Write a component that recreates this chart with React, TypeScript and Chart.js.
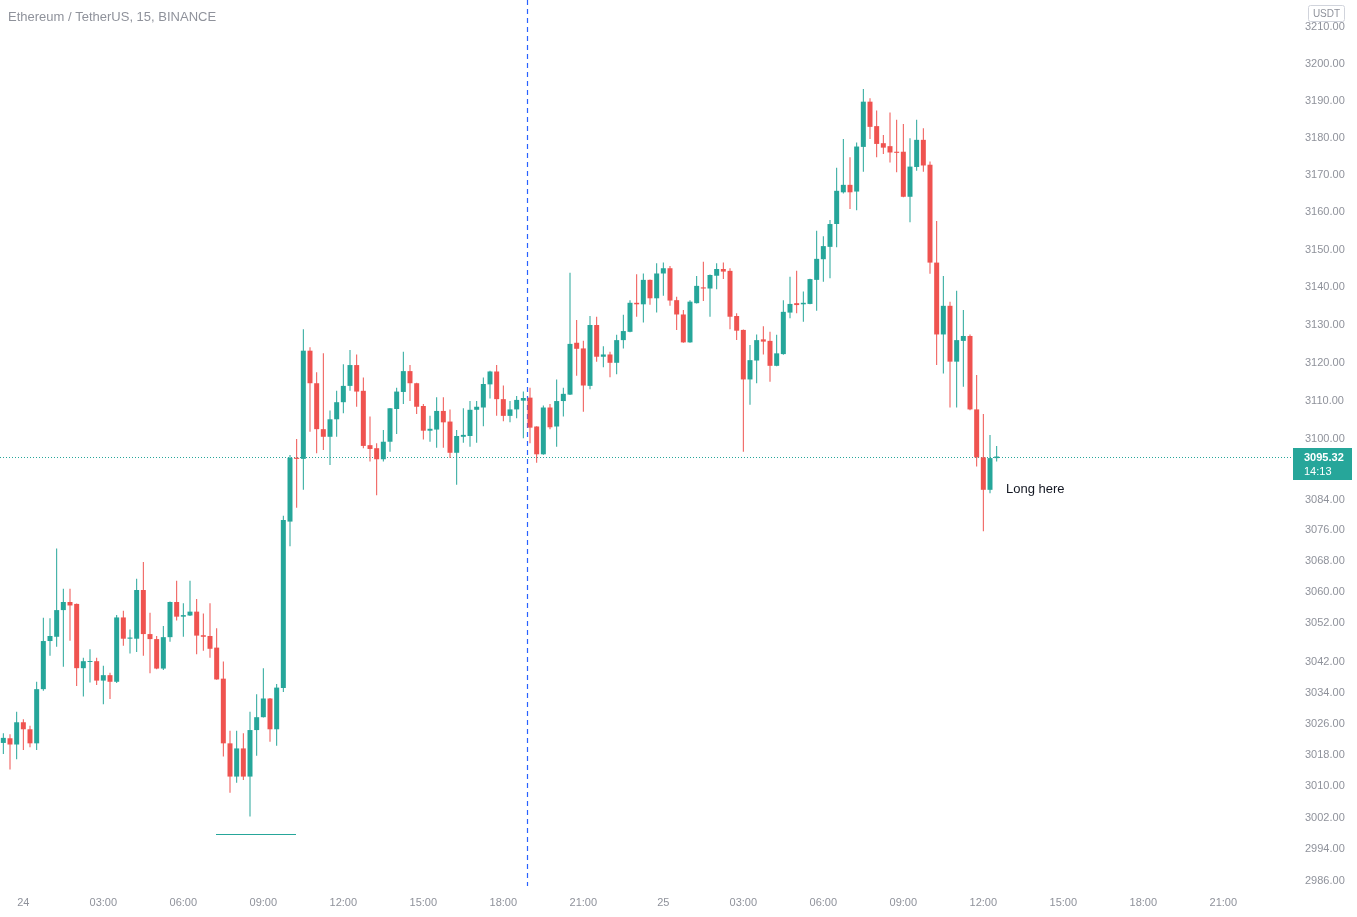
import React, { useEffect, useRef } from "react";
import { Chart, registerables } from "chart.js";

Chart.register(...registerables);

// ---- data (15-minute candles, index 0 = 24th 00:00) ----
const firstIndex = -3;

const opens = [
  3021.1, 3022.3, 3020.7, 3026.4, 3024.6, 3021.0, 3034.9, 3047.3, 3048.4, 3055.3,
  3057.4, 3056.9, 3040.3, 3041.9, 3042.1, 3037.1, 3038.5, 3036.8, 3053.4, 3047.9,
  3047.9, 3060.5, 3049.1, 3047.8, 3040.2, 3048.3, 3057.4, 3053.6, 3053.9, 3054.9,
  3048.8, 3048.6, 3045.6, 3037.6, 3021.0, 3012.5, 3019.7, 3012.5, 3024.4, 3027.7,
  3032.5, 3024.6, 3035.2, 3078.3, 3095.0, 3094.7, 3123.2, 3114.6, 3102.5, 3100.5,
  3105.1, 3109.6, 3113.9, 3119.4, 3112.6, 3098.3, 3097.5, 3094.6, 3099.2, 3107.8,
  3112.3, 3117.8, 3114.6, 3108.6, 3102.1, 3102.4, 3107.3, 3104.5, 3096.3, 3100.5,
  3100.7, 3107.6, 3108.2, 3114.3, 3117.7, 3110.4, 3106.0, 3107.7, 3110.0, 3110.8,
  3103.2, 3095.9, 3108.2, 3103.2, 3109.9, 3111.6, 3125.3, 3123.8, 3113.9, 3130.0,
  3121.6, 3122.2, 3120.0, 3126.0, 3128.2, 3135.9, 3135.5, 3142.0, 3137.1, 3143.7,
  3145.1, 3136.6, 3132.8, 3125.4, 3135.8, 3140.0, 3139.7, 3143.1, 3144.9, 3144.4,
  3132.4, 3128.7, 3115.6, 3120.6, 3126.2, 3125.8, 3119.2, 3122.3, 3133.3, 3135.8,
  3135.5, 3135.6, 3142.0, 3147.5, 3150.8, 3156.9, 3165.4, 3167.4, 3165.6, 3177.6,
  3189.8, 3183.2, 3178.6, 3177.8, 3176.3, 3176.3, 3164.2, 3172.2, 3179.5, 3172.8,
  3146.6, 3127.5, 3135.1, 3120.3, 3125.8, 3127.1, 3107.7, 3095.1, 3086.6, 3094.9,
];

const highs = [
  3023.6, 3023.3, 3029.1, 3027.2, 3025.5, 3036.8, 3053.3, 3053.2, 3071.3, 3060.8,
  3060.8, 3057.0, 3043.0, 3045.2, 3043.0, 3040.9, 3039.1, 3054.0, 3055.1, 3050.3,
  3063.4, 3067.8, 3054.6, 3048.6, 3051.2, 3057.5, 3062.9, 3057.1, 3062.9, 3058.2,
  3054.4, 3057.1, 3050.6, 3042.0, 3024.2, 3024.2, 3023.6, 3029.1, 3033.6, 3040.3,
  3032.6, 3036.2, 3079.8, 3095.7, 3099.9, 3128.9, 3124.1, 3117.5, 3122.5, 3107.4,
  3112.6, 3119.6, 3123.4, 3122.2, 3116.1, 3105.8, 3098.8, 3102.3, 3108.1, 3113.4,
  3122.9, 3119.4, 3114.7, 3109.1, 3106.0, 3110.9, 3110.9, 3107.7, 3102.3, 3108.0,
  3109.9, 3109.9, 3116.1, 3117.9, 3119.4, 3114.0, 3109.9, 3111.2, 3112.4, 3113.4,
  3103.3, 3108.7, 3109.1, 3115.6, 3113.4, 3143.9, 3131.3, 3125.8, 3132.4, 3132.2,
  3124.4, 3122.9, 3127.4, 3132.7, 3136.6, 3143.5, 3143.7, 3142.1, 3146.4, 3146.6,
  3145.7, 3137.5, 3134.0, 3136.6, 3143.0, 3146.8, 3143.4, 3146.4, 3146.6, 3145.1,
  3133.1, 3128.8, 3124.7, 3127.5, 3129.7, 3128.2, 3127.4, 3136.6, 3142.8, 3144.4,
  3138.9, 3142.3, 3155.1, 3153.6, 3158.0, 3172.0, 3179.7, 3174.8, 3178.8, 3193.2,
  3190.7, 3187.4, 3180.8, 3186.9, 3184.9, 3183.8, 3179.9, 3184.9, 3182.6, 3173.7,
  3157.7, 3143.0, 3136.2, 3139.1, 3134.0, 3127.5, 3116.8, 3106.5, 3101.0, 3098.1,
];

const lows = [
  3018.3, 3014.3, 3016.9, 3019.3, 3020.0, 3019.3, 3034.5, 3043.5, 3045.8, 3040.7,
  3047.4, 3035.7, 3033.0, 3036.6, 3036.0, 3031.0, 3032.4, 3036.5, 3046.1, 3044.1,
  3044.5, 3043.5, 3039.0, 3040.0, 3039.8, 3047.1, 3052.6, 3048.4, 3053.8, 3043.9,
  3044.8, 3043.0, 3037.3, 3017.6, 3008.4, 3010.9, 3011.6, 3002.3, 3017.8, 3027.6,
  3021.4, 3020.4, 3034.2, 3071.9, 3081.9, 3086.6, 3101.8, 3096.2, 3097.0, 3093.1,
  3100.5, 3106.7, 3112.6, 3108.4, 3097.5, 3094.0, 3085.2, 3094.0, 3096.6, 3101.2,
  3109.1, 3109.9, 3106.5, 3099.8, 3099.2, 3097.6, 3097.6, 3094.9, 3087.9, 3098.9,
  3097.9, 3098.9, 3103.3, 3110.6, 3106.0, 3104.6, 3104.3, 3105.4, 3100.1, 3098.8,
  3093.7, 3095.8, 3102.5, 3097.9, 3105.8, 3111.5, 3116.6, 3107.1, 3113.0, 3120.3,
  3118.8, 3116.2, 3117.0, 3123.8, 3128.1, 3132.2, 3130.7, 3135.4, 3133.3, 3137.8,
  3135.1, 3128.7, 3125.3, 3125.3, 3135.7, 3136.4, 3132.2, 3139.5, 3142.2, 3128.9,
  3126.0, 3096.6, 3108.9, 3114.6, 3122.2, 3115.0, 3119.1, 3122.1, 3131.8, 3133.1,
  3130.9, 3135.5, 3133.8, 3141.5, 3142.4, 3150.7, 3165.1, 3160.9, 3160.6, 3170.9,
  3179.7, 3174.8, 3175.7, 3173.4, 3170.8, 3164.1, 3157.4, 3171.2, 3170.9, 3143.6,
  3119.4, 3117.2, 3108.2, 3108.2, 3113.7, 3107.5, 3092.7, 3075.8, 3085.7, 3094.0,
];

const closes = [
  3022.4, 3020.7, 3026.4, 3024.6, 3021.0, 3034.9, 3047.3, 3048.6, 3055.3, 3057.4,
  3056.5, 3040.3, 3042.1, 3042.1, 3037.1, 3038.5, 3036.8, 3053.4, 3047.9, 3048.2,
  3060.5, 3049.1, 3047.8, 3040.2, 3048.3, 3057.4, 3053.6, 3054.0, 3054.9, 3048.7,
  3048.4, 3045.3, 3037.4, 3021.0, 3012.5, 3019.7, 3012.5, 3024.4, 3027.7, 3032.5,
  3024.6, 3035.3, 3078.7, 3095.0, 3094.7, 3123.2, 3114.6, 3102.5, 3100.5, 3105.1,
  3109.6, 3113.9, 3119.4, 3112.4, 3098.1, 3097.3, 3094.6, 3099.2, 3108.0, 3112.4,
  3117.8, 3114.6, 3108.4, 3102.1, 3102.6, 3107.3, 3104.3, 3096.3, 3100.7, 3101.0,
  3107.6, 3108.4, 3114.4, 3117.7, 3110.4, 3106.0, 3107.7, 3110.2, 3110.7, 3102.9,
  3095.9, 3108.2, 3103.0, 3109.9, 3111.8, 3125.0, 3123.7, 3114.0, 3130.0, 3121.6,
  3122.2, 3120.0, 3126.0, 3128.4, 3135.9, 3135.5, 3142.0, 3137.1, 3143.7, 3145.1,
  3136.5, 3132.8, 3125.4, 3136.2, 3140.4, 3139.7, 3143.3, 3144.9, 3144.2, 3132.2,
  3128.5, 3115.6, 3120.7, 3126.0, 3125.6, 3119.2, 3122.5, 3133.5, 3135.6, 3135.3,
  3135.9, 3142.2, 3147.6, 3151.0, 3156.9, 3165.8, 3167.4, 3165.4, 3177.7, 3189.8,
  3183.0, 3178.4, 3177.4, 3176.1, 3176.0, 3164.2, 3172.3, 3179.5, 3172.6, 3146.6,
  3127.5, 3135.1, 3120.3, 3126.0, 3127.1, 3107.7, 3095.1, 3086.6, 3094.9, 3095.32,
];

const timeTickLabels = [
  "24", "03:00", "06:00", "09:00", "12:00", "15:00", "18:00", "21:00",
  "25", "03:00", "06:00", "09:00", "12:00", "15:00", "18:00", "21:00",
];
const timeTickStep = 12;

const priceTicks = [
  3210, 3200, 3190, 3180, 3170, 3160, 3150, 3140, 3130, 3120, 3110, 3100,
  3084, 3076, 3068, 3060, 3052, 3042, 3034, 3026, 3018, 3010, 3002, 2994, 2986,
];

const lastPrice = 3095.32;
const countdown = "14:13";
const supportLevel = 2998;
const supportFrom = 28.9;
const supportTo = 40.9;
const markerIndex = 75.55;
const noteText = "Long here";
const noteIndex = 147.4;
const notePrice = 3086.8;
const titleText = "Ethereum / TetherUS, 15, BINANCE";
const currencyText = "USDT";
const xMin = -3.5;
const xMax = 190.6;
const yMin = 2984.7;
const yMax = 3217.4;

const UP = "#26a69a";
const DOWN = "#ef5350";
const AXIS_TEXT = "#8f929b";
const MARKER = "#2962ff";
const FONT = "'Liberation Sans', Arial, sans-serif";

const overlayPlugin = {
  id: "overlay",
  beforeDatasetsDraw(chart: any) {
    const { ctx, chartArea, scales } = chart;
    const x = scales.x.getPixelForValue(markerIndex);
    ctx.save();
    ctx.strokeStyle = MARKER;
    ctx.lineWidth = 1.2;
    ctx.setLineDash([5, 4]);
    ctx.beginPath();
    ctx.moveTo(Math.round(x) + 0.5, chartArea.top);
    ctx.lineTo(Math.round(x) + 0.5, chartArea.bottom);
    ctx.stroke();

    const y = scales.y.getPixelForValue(lastPrice);
    ctx.strokeStyle = UP;
    ctx.lineWidth = 1;
    ctx.setLineDash([1, 2]);
    ctx.beginPath();
    ctx.moveTo(chartArea.left, Math.round(y) + 0.5);
    ctx.lineTo(chartArea.right, Math.round(y) + 0.5);
    ctx.stroke();
    ctx.restore();
  },
  afterDatasetsDraw(chart: any) {
    const { ctx, scales } = chart;
    ctx.save();
    const ys = Math.round(scales.y.getPixelForValue(supportLevel)) + 0.5;
    ctx.strokeStyle = UP;
    ctx.lineWidth = 1;
    ctx.beginPath();
    ctx.moveTo(scales.x.getPixelForValue(supportFrom), ys);
    ctx.lineTo(scales.x.getPixelForValue(supportTo), ys);
    ctx.stroke();

    ctx.fillStyle = "#131722";
    ctx.font = `13px ${FONT}`;
    ctx.textAlign = "left";
    ctx.textBaseline = "middle";
    ctx.fillText(noteText, scales.x.getPixelForValue(noteIndex), scales.y.getPixelForValue(notePrice));
    ctx.restore();
  },
  afterDraw(chart: any) {
    const { ctx, chartArea, scales } = chart;
    ctx.save();
    // title
    ctx.fillStyle = AXIS_TEXT;
    ctx.font = `13px ${FONT}`;
    ctx.textAlign = "left";
    ctx.textBaseline = "alphabetic";
    ctx.fillText(titleText, 8, 21);

    // currency badge
    const bx = chartArea.right + 14.5;
    const by = 5.5;
    const bw = 36;
    const bh = 16;
    ctx.fillStyle = "#ffffff";
    ctx.strokeStyle = "#d1d4dc";
    ctx.lineWidth = 1;
    ctx.beginPath();
    ctx.roundRect(bx, by, bw, bh, 2);
    ctx.fill();
    ctx.stroke();
    ctx.fillStyle = AXIS_TEXT;
    ctx.font = `10px ${FONT}`;
    ctx.textAlign = "center";
    ctx.textBaseline = "middle";
    ctx.fillText(currencyText, bx + bw / 2, by + bh / 2 + 1);

    // last price label
    const y = Math.round(scales.y.getPixelForValue(lastPrice));
    ctx.fillStyle = UP;
    ctx.fillRect(chartArea.right - 1, y - 9, 59, 32);
    ctx.fillStyle = "#ffffff";
    ctx.textAlign = "left";
    ctx.textBaseline = "middle";
    ctx.font = `bold 11px ${FONT}`;
    ctx.fillText(lastPrice.toFixed(2), chartArea.right + 10, y + 1);
    ctx.font = `11px ${FONT}`;
    ctx.fillText(countdown, chartArea.right + 10, y + 15);
    ctx.restore();
  },
};

export default function App() {
  const canvasRef = useRef<HTMLCanvasElement | null>(null);

  useEffect(() => {
    document.body.style.margin = "0";
    const canvas = canvasRef.current;
    if (!canvas) return;
    const idx = opens.map((_, k) => firstIndex + k);
    const colors = opens.map((o, k) => (closes[k] >= o ? UP : DOWN));

    const chart = new Chart(canvas, {
      type: "bar",
      data: {
        datasets: [
          {
            label: "wick",
            data: idx.map((x, k) => ({ x, y: [lows[k], highs[k]] })) as any,
            backgroundColor: colors,
            barThickness: 1,
            grouped: false,
            borderWidth: 0,
            inflateAmount: 0,
            minBarLength: 1,
          } as any,
          {
            label: "body",
            data: idx.map((x, k) => ({
              x,
              y: [Math.min(opens[k], closes[k]), Math.max(opens[k], closes[k])],
            })) as any,
            backgroundColor: colors,
            barThickness: 5,
            grouped: false,
            borderWidth: 0,
            inflateAmount: 0,
            minBarLength: 1,
          } as any,
        ],
      },
      options: {
        responsive: false,
        animation: false,
        devicePixelRatio: 1,
        layout: { padding: 0 },
        plugins: {
          legend: { display: false },
          tooltip: { enabled: false },
          title: { display: false },
        },
        scales: {
          x: {
            type: "linear",
            offset: false,
            min: xMin,
            max: xMax,
            bounds: "data",
            grid: { display: false, drawTicks: false, offset: false },
            border: { display: false },
            ticks: {
              autoSkip: false,
              maxRotation: 0,
              padding: 10,
              color: AXIS_TEXT,
              font: { family: FONT, size: 11 },
              callback: (v: any) => timeTickLabels[Math.round(Number(v) / timeTickStep)] ?? "",
            },
            afterBuildTicks: (s: any) => {
              s.ticks = timeTickLabels.map((_, k) => ({ value: k * timeTickStep }));
            },
            afterFit: (s: any) => {
              s.height = 31;
              s.paddingLeft = 0;
              s.paddingRight = 0;
            },
          } as any,
          y: {
            type: "logarithmic",
            position: "right",
            min: yMin,
            max: yMax,
            bounds: "data",
            grid: { display: false, drawTicks: false },
            border: { display: false },
            ticks: {
              autoSkip: false,
              padding: 11,
              color: AXIS_TEXT,
              font: { family: FONT, size: 11 },
              callback: (v: any) => Number(v).toFixed(2),
            },
            afterBuildTicks: (s: any) => {
              s.ticks = priceTicks.map((v) => ({ value: v }));
            },
            afterFit: (s: any) => {
              s.width = 63;
              s.paddingTop = 0;
              s.paddingBottom = 0;
            },
          } as any,
        },
      },
      plugins: [overlayPlugin],
    });
    return () => chart.destroy();
  }, []);

  return (
    <div style={{ position: "fixed", left: 0, top: 0, width: 1357, height: 917, background: "#ffffff" }}>
      <canvas ref={canvasRef} width={1357} height={917} style={{ display: "block" }} />
    </div>
  );
}
